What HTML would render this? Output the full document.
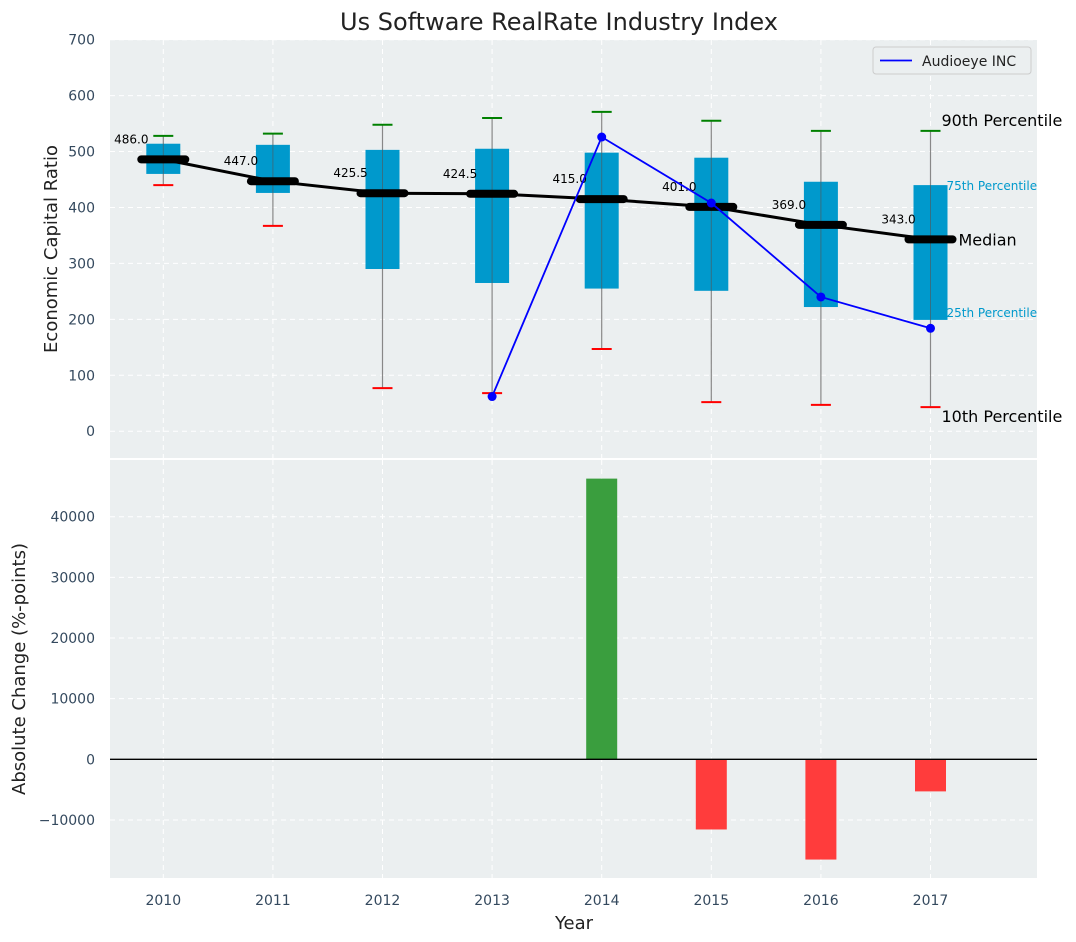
<!DOCTYPE html>
<html><head><meta charset="utf-8">
<style>
html,body{margin:0;padding:0;background:#fff;}
svg{display:block;font-family:"DejaVu Sans","Liberation Sans",sans-serif;}
</style></head>
<body>
<svg id="chart" width="1076" height="942" viewBox="0 0 1076 942" xmlns="http://www.w3.org/2000/svg">
<text x="559" y="30" font-size="24" text-anchor="middle" fill="#222">Us Software RealRate Industry Index</text>
<rect x="110" y="40" width="927" height="418" fill="#ebeff0"/>
<rect x="110" y="460" width="927" height="418" fill="#ebeff0"/>
<g id="topG"></g>
<g id="botG"></g>
<text transform="translate(57,249) rotate(-90)" font-size="18" text-anchor="middle" fill="#222">Economic Capital Ratio</text>
<text transform="translate(25,669) rotate(-90)" font-size="18" text-anchor="middle" fill="#222">Absolute Change (%-points)</text>
<text x="574" y="929" font-size="18" text-anchor="middle" fill="#222">Year</text>
<g>
<rect x="873" y="47" width="158" height="27" rx="3" fill="#ebeff0" stroke="#ccc"/>
<line x1="880" y1="60.5" x2="912" y2="60.5" stroke="blue" stroke-width="1.8"/>
<text x="922" y="66" font-size="14" fill="#222">Audioeye INC</text>
</g>
</svg>
<script>
const years=[2010,2011,2012,2013,2014,2015,2016,2017];
const p90=[528,532,548,560,571,555,537,537];
const q3=[514,512,503,505,498,489,446,440];
const medians=[486,447,425.5,424.5,415,401,369,343];
const q1=[460,426,290,265,255,251,222,199];
const p10=[440,367,77,68,147,52,47,43];
const audioYears=[2013,2014,2015,2016,2017];
const audioVals=[62,526,408,240,184];
const changeYears=[2014,2015,2016,2017];
const changeVals=[46280,-11570,-16530,-5290];
const topTicks=[0,100,200,300,400,500,600,700];
const botTicks=[-10000,0,10000,20000,30000,40000];

const NS='http://www.w3.org/2000/svg';
const X=y=>163.3+(y-2010)*109.6;
const YT=v=>431.2-v*0.5593;
const YB=v=>759.3-v*0.006065;
function mk(parent,tag,attrs,text){const e=document.createElementNS(NS,tag);for(const k in attrs)e.setAttribute(k,attrs[k]);if(text!==undefined)e.textContent=text;parent.appendChild(e);return e;}
const gTop=document.getElementById('topG'),gBot=document.getElementById('botG');
const grid={stroke:'#fff','stroke-dasharray':'5,4','stroke-width':1};
years.forEach(y=>{
 let g=mk(gTop,'line',Object.assign({x1:X(y),x2:X(y),y1:40,y2:458},grid));
 
 
 let g2=mk(gBot,'line',Object.assign({x1:X(y),x2:X(y),y1:460,y2:878},grid));
 
 
 let t=mk(gBot,'text',{x:X(y),y:905,'font-size':14,'text-anchor':'middle',fill:'#34495e'},y);
 
 
});
topTicks.forEach(v=>{
 let g=mk(gTop,'line',Object.assign({x1:110,x2:1037,y1:YT(v),y2:YT(v)},grid));
 
 
 let t=mk(gTop,'text',{x:95,y:YT(v)+5,'font-size':14,'text-anchor':'end',fill:'#34495e'},v);
 
 
});
botTicks.forEach(v=>{
 let g=mk(gBot,'line',Object.assign({x1:110,x2:1037,y1:YB(v),y2:YB(v)},grid));
 
 
 let t=mk(gBot,'text',{x:95,y:YB(v)+5,'font-size':14,'text-anchor':'end',fill:'#34495e'},v<0?'\u2212'+(-v):v);
 
 
});
years.forEach((y,i)=>{
 const x=X(y);
 let w=mk(gTop,'line',{x1:x,x2:x,y1:YT(p90[i]),y2:YT(p10[i]),stroke:'#888','stroke-width':1.2});
 
 
 let b=mk(gTop,'rect',{x:x-17,y:YT(q3[i]),width:34,height:YT(q1[i])-YT(q3[i]),fill:'#0099cc'});
 
 
 let w2=mk(gTop,'line',{x1:x,x2:x,y1:YT(q3[i]),y2:YT(q1[i]),stroke:'#555','stroke-width':1,opacity:0.6});
 
 
 let h=mk(gTop,'line',{x1:x-10,x2:x+10,y1:YT(p90[i]),y2:YT(p90[i]),stroke:'green','stroke-width':2});
 
 
 let l=mk(gTop,'line',{x1:x-10,x2:x+10,y1:YT(p10[i]),y2:YT(p10[i]),stroke:'red','stroke-width':2});
 
 
});
let mp=mk(gTop,'polyline',{points:years.map((y,i)=>X(y)+','+YT(medians[i])).join(' '),fill:'none',stroke:'#000','stroke-width':3});


years.forEach((y,i)=>{
 let m=mk(gTop,'line',{x1:X(y)-22,x2:X(y)+22,y1:YT(medians[i]),y2:YT(medians[i]),stroke:'#000','stroke-width':8,'stroke-linecap':'round'});
 
 
 let t=mk(gTop,'text',{x:X(y)-32,y:YT(medians[i])-16,'font-size':12,'text-anchor':'middle',fill:'#000'},medians[i].toFixed(1));
 
 
});
let ap=mk(gTop,'polyline',{points:audioYears.map((y,i)=>X(y)+','+YT(audioVals[i])).join(' '),fill:'none',stroke:'blue','stroke-width':1.8});


audioYears.forEach((y,i)=>{
 let c=mk(gTop,'circle',{cx:X(y),cy:YT(audioVals[i]),r:4.5,fill:'blue'});
 
 
});
const last=years.length-1,lx=X(years[last]);
[[p90[last],'90th Percentile',16,'#000',11,-5],[q3[last],'75th Percentile',12,'#0099cc',16,5],[medians[last],'Median',16,'#000',28,6],[q1[last],'25th Percentile',12,'#0099cc',16,-3],[p10[last],'10th Percentile',16,'#000',11,15]].forEach(a=>{
 let t=mk(gTop,'text',{x:lx+a[4],y:YT(a[0])+a[5],'font-size':a[2],fill:a[3]},a[1]);
 
 
});
changeYears.forEach((y,i)=>{
 const v=changeVals[i];
 let r=mk(gBot,'rect',{x:X(y)-15.5,y:Math.min(YB(v),YB(0)),width:31,height:Math.abs(YB(v)-YB(0)),fill:v>=0?'#3a9e3e':'#ff3c3c'});
 
 
});
let z=mk(gBot,'line',{x1:110,x2:1037,y1:YB(0),y2:YB(0),stroke:'#000','stroke-width':1.3});


</script>
</body></html>
